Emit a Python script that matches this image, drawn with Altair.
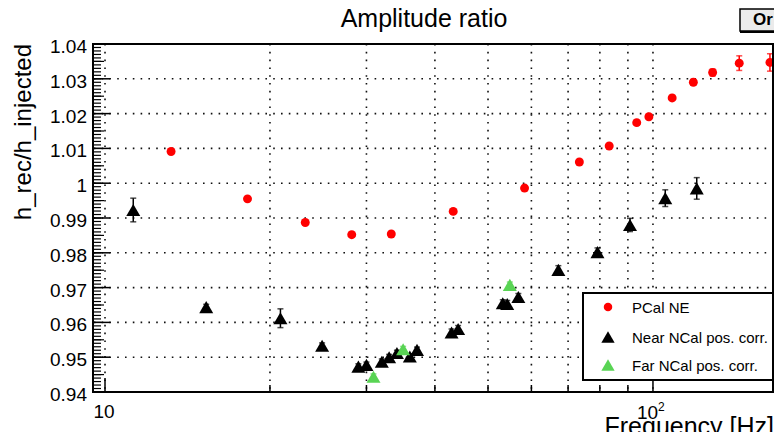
import altair as alt
import pandas as pd

# ---------------- data ----------------
pcal_f = [13.2, 18.2, 23.2, 28.2, 33.3, 43.2, 58.3, 73.4, 83.2, 93.4, 98.3, 108.4, 118.5, 128.5, 143.7, 163.5]
pcal_v = [1.0091, 0.9955, 0.9887, 0.9852, 0.9854, 0.9919, 0.9986, 1.0061, 1.0107, 1.0174, 1.0191, 1.0245, 1.0290, 1.0318, 1.0345, 1.0347]
pcal_e = [0.0004, 0.0004, 0.0004, 0.0004, 0.0004, 0.0004, 0.0004, 0.0005, 0.0005, 0.0006, 0.0006, 0.0007, 0.0008, 0.0010, 0.0021, 0.0025]

near_f = [11.26, 15.3, 20.9, 24.9, 29.0, 30.0, 32.0, 33.0, 34.1, 36.0, 37.1, 42.9, 44.1, 53.2, 54.2, 56.8, 67.2, 79.2, 90.8, 105.3, 120.2]
near_v = [0.9923, 0.9644, 0.9612, 0.9533, 0.9473, 0.9478, 0.9487, 0.9500, 0.9512, 0.9502, 0.9521, 0.9571, 0.9581, 0.9655, 0.9653, 0.9673, 0.9751, 0.9802, 0.9880, 0.9957, 0.9985]
near_e = [0.0034, 0.0008, 0.0027, 0.0008, 0.0008, 0.0008, 0.0008, 0.0008, 0.0008, 0.0008, 0.0008, 0.0010, 0.0010, 0.0010, 0.0010, 0.0010, 0.0012, 0.0012, 0.0019, 0.0024, 0.0031]

far_f = [30.9, 35.0, 54.8]
far_v = [0.9444, 0.9523, 0.9708]
far_e = [0.0008, 0.0008, 0.0008]

series_names = ["PCal NE", "Near NCal pos. corr.", "Far NCal pos. corr."]
series_colors = ["#ff0000", "#000000", "#59d454"]
series_shapes = ["circle", "triangle-up", "triangle-up"]
series_sizes = [80, 196, 196]

grid_f = [10, 20, 30, 40, 50, 60, 70, 80, 90, 100]
minor_xticks = [20, 30, 40, 50, 60, 70, 80, 90]
major_xticks = [10, 100]
grid_v = [0.95, 0.96, 0.97, 0.98, 0.99, 1.00, 1.01, 1.02, 1.03]
ylab_v = [0.94, 0.95, 0.96, 0.97, 0.98, 0.99, 1.00, 1.01, 1.02, 1.03, 1.04]
ylab_t = ["0.94", "0.95", "0.96", "0.97", "0.98", "0.99", "1", "1.01", "1.02", "1.03", "1.04"]
title_text = "Amplitude ratio"
xtitle_text = "Frequency [Hz]"
ytitle_text = "h_rec/h_injected"
button_text = "Or"

# ---------------- layout ----------------
W, H = 681, 348
FONT = "Liberation Sans"
xs = alt.Scale(type="log", domain=[9.508, 166.3], nice=False)
ys = alt.Scale(domain=[0.94, 1.04], nice=False, zero=False)


def X(field="f"):
    return alt.X(f"{field}:Q", scale=xs, axis=None)


def Y(field="v"):
    return alt.Y(f"{field}:Q", scale=ys, axis=None)


one = pd.DataFrame({"k": [0]})

# grid
vgrid = alt.Chart(pd.DataFrame({"f": grid_f})).mark_rule(
    color="#111", strokeWidth=1.6, strokeDash=[1.6, 6.2]).encode(x=X())
hgrid = alt.Chart(pd.DataFrame({"v": grid_v})).mark_rule(
    color="#111", strokeWidth=1.6, strokeDash=[1.6, 6.2]).encode(y=Y())

# data tables
def make_df(fs, vs, es, name):
    return pd.DataFrame({"f": fs, "v": vs, "lo": [a - b for a, b in zip(vs, es)],
                         "hi": [a + b for a, b in zip(vs, es)], "s": name})

dfs = [make_df(pcal_f, pcal_v, pcal_e, series_names[0]),
       make_df(near_f, near_v, near_e, series_names[1]),
       make_df(far_f, far_v, far_e, series_names[2])]

data_layers = []
for i, d in enumerate(dfs):
    col = series_colors[i]
    bars = alt.Chart(d).mark_rule(color=col, strokeWidth=1.5).encode(
        x=X(), y=Y("lo"), y2="hi")
    cap_lo = alt.Chart(d).mark_tick(color=col, orient="horizontal", size=6, thickness=1.5).encode(
        x=X(), y=Y("lo"))
    cap_hi = alt.Chart(d).mark_tick(color=col, orient="horizontal", size=6, thickness=1.5).encode(
        x=X(), y=Y("hi"))
    pts = alt.Chart(d).mark_point(shape=series_shapes[i], filled=True, opacity=1,
                                  size=series_sizes[i], color=col, strokeWidth=0).encode(
        x=X(), y=Y())
    data_layers += [bars, cap_lo, cap_hi, pts]

# ticks (inside the frame)
yt_minor = [round(0.94 + 0.001 * k, 3) for k in range(101)]
yt_mid = [round(0.945 + 0.01 * k, 3) for k in range(10)]
ytick_minor = alt.Chart(pd.DataFrame({"v": yt_minor})).mark_rule(color="black", strokeWidth=1.2).encode(
    y=Y(), x=alt.value(0), x2=alt.value(8))
ytick_mid = alt.Chart(pd.DataFrame({"v": yt_mid})).mark_rule(color="black", strokeWidth=1.2).encode(
    y=Y(), x=alt.value(0), x2=alt.value(11))
ytick_major = alt.Chart(pd.DataFrame({"v": ylab_v})).mark_rule(color="black", strokeWidth=1.5).encode(
    y=Y(), x=alt.value(0), x2=alt.value(17))
xtick_minor = alt.Chart(pd.DataFrame({"f": minor_xticks})).mark_rule(color="black", strokeWidth=1.5).encode(
    x=X(), y=alt.value(H), y2=alt.value(H - 7))
xtick_major = alt.Chart(pd.DataFrame({"f": major_xticks})).mark_rule(color="black", strokeWidth=1.5).encode(
    x=X(), y=alt.value(H), y2=alt.value(H - 14))

# frame
frame = alt.Chart(one).mark_rect(fill=None, stroke="black", strokeWidth=2).encode(
    x=alt.value(0), x2=alt.value(W - 1), y=alt.value(0), y2=alt.value(H))

# axis labels
ylabels = alt.Chart(pd.DataFrame({"v": ylab_v, "t": ylab_t})).mark_text(
    align="right", baseline="alphabetic", dy=9, font=FONT, fontSize=19, color="black").encode(
    y=Y(), x=alt.value(-6), text="t:N")
xl10 = alt.Chart(pd.DataFrame({"f": [10], "t": ["10"]})).mark_text(
    align="center", baseline="alphabetic", dx=-1, font=FONT, fontSize=19, color="black").encode(
    x=X(), y=alt.value(H + 26), text="t:N")
xl100 = alt.Chart(pd.DataFrame({"f": [100], "t": ["10"]})).mark_text(
    align="center", baseline="alphabetic", dx=-5.5, font=FONT, fontSize=19, color="black").encode(
    x=X(), y=alt.value(H + 27), text="t:N")
xl100sup = alt.Chart(pd.DataFrame({"f": [100], "t": ["2"]})).mark_text(
    align="left", baseline="alphabetic", dx=5, font=FONT, fontSize=12, color="black").encode(
    x=X(), y=alt.value(H + 19), text="t:N")

# titles
title = alt.Chart(pd.DataFrame({"t": [title_text]})).mark_text(
    align="center", baseline="alphabetic", font=FONT, fontSize=25, color="black").encode(
    x=alt.value(331), y=alt.value(-17), text="t:N")
xtitle = alt.Chart(pd.DataFrame({"t": [xtitle_text]})).mark_text(
    align="right", baseline="alphabetic", font=FONT, fontSize=25, color="black").encode(
    x=alt.value(W), y=alt.value(391), text="t:N")
ytitle = alt.Chart(pd.DataFrame({"t": [ytitle_text]})).mark_text(
    align="right", baseline="middle", angle=270, font=FONT, fontSize=24, color="black").encode(
    x=alt.value(-69), y=alt.value(0), text="t:N")

# the cut-off button box at the top right
btn = alt.Chart(one).mark_rect(fill="#ebebeb", stroke="black", strokeWidth=1.5).encode(
    x=alt.value(647), x2=alt.value(720), y=alt.value(-35), y2=alt.value(-13))
btn_shadow = alt.Chart(one).mark_rect(fill="black").encode(
    x=alt.value(647), x2=alt.value(720), y=alt.value(-13), y2=alt.value(-11))
btn_text = alt.Chart(pd.DataFrame({"t": [button_text]})).mark_text(
    align="left", baseline="alphabetic", font=FONT, fontSize=17, fontWeight="bold", color="black").encode(
    x=alt.value(660), y=alt.value(-19), text="t:N")

# legend box
LX0, LX1, LY0, LY1 = 490, 680, 249, 336
leg_box = alt.Chart(one).mark_rect(fill="white", stroke="black", strokeWidth=2).encode(
    x=alt.value(LX0), x2=alt.value(LX1), y=alt.value(LY0), y2=alt.value(LY1))
leg_y = [263, 293, 321]
leg_layers = []
for i, name in enumerate(series_names):
    d = pd.DataFrame({"t": [name]})
    leg_layers.append(alt.Chart(d).mark_point(shape=series_shapes[i], filled=True, opacity=1,
                                              size=series_sizes[i] * 0.9, color=series_colors[i], strokeWidth=0).encode(
        x=alt.value(515), y=alt.value(leg_y[i])))
    leg_layers.append(alt.Chart(d).mark_text(align="left", baseline="middle", font=FONT, fontSize=15,
                                             color="black").encode(
        x=alt.value(539), y=alt.value(leg_y[i] + 1), text="t:N"))

chart = alt.layer(
    vgrid, hgrid, *data_layers, ytick_minor, ytick_mid, ytick_major, xtick_minor, xtick_major,
    frame, ylabels, xl10, xl100, xl100sup, title, xtitle, ytitle, btn, btn_shadow, btn_text,
    leg_box, *leg_layers
).properties(
    width=W, height=H,
    autosize=alt.AutoSizeParams(type="none"),
    padding={"left": 85, "top": 36, "right": 0, "bottom": 40},
    background="white",
).configure_view(stroke=None)

chart.save("out.html", embed_options={"renderer": "svg", "actions": False})
